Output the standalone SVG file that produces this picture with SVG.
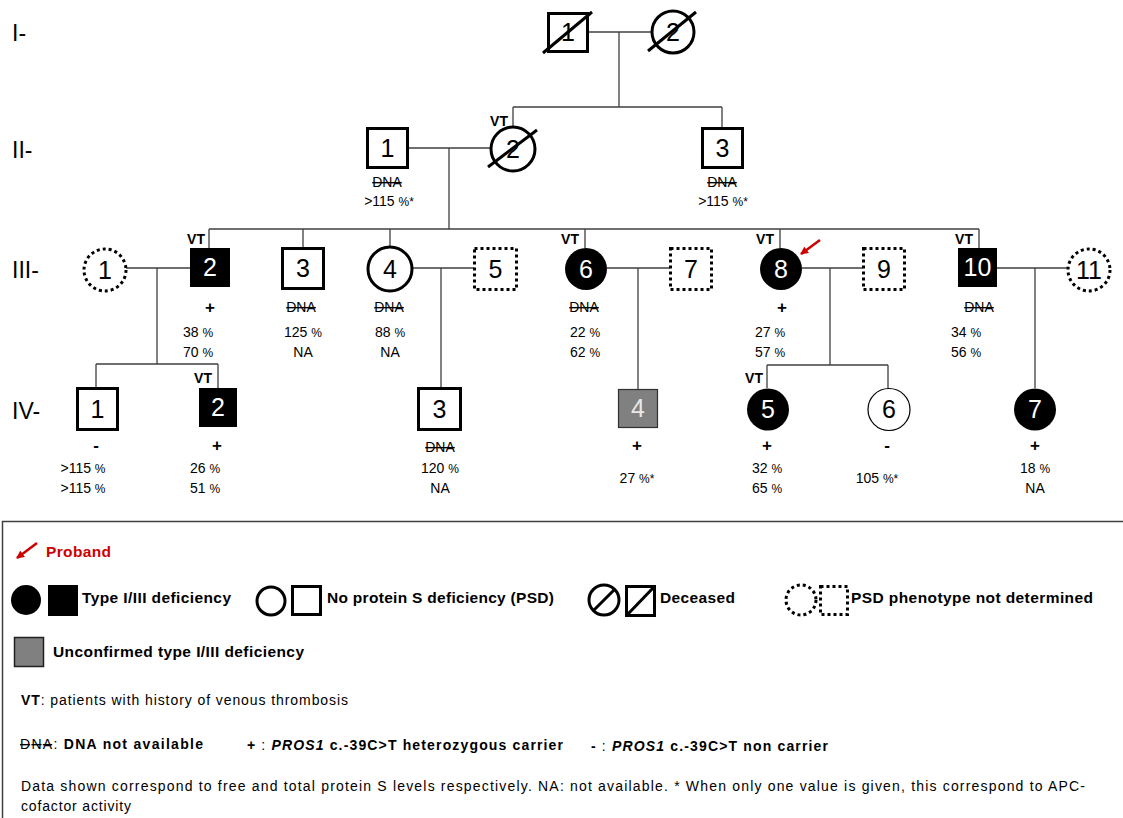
<svg xmlns="http://www.w3.org/2000/svg" width="1123" height="818" viewBox="0 0 1123 818">
<defs>
<style>
.ln{stroke:#404040;stroke-width:1.3;fill:none}
.thick{fill:#fff;stroke:#000;stroke-width:3}
.thin{fill:#fff;stroke:#000;stroke-width:1.2}
.blk{fill:#000}
.dot{fill:#fff;stroke:#000;stroke-width:3;stroke-dasharray:3 3}
.slash{stroke:#000;stroke-width:3}
text{font-family:"Liberation Sans",Arial,sans-serif}
.num{font-size:25px;text-anchor:middle}
.w{fill:#fff}
.t{font-size:14px;text-anchor:middle}
.b{font-weight:bold}
.pm{font-size:17px;font-weight:bold;text-anchor:middle}
.vt{font-size:14px;font-weight:bold;text-anchor:middle}
.dna{text-decoration:line-through}
.gen{font-size:23px}
.pc{font-size:12px}
.lg{font-size:15.5px;font-weight:bold}
.lt{font-size:14px}
</style>
<marker id="ah" markerWidth="8" markerHeight="8" refX="7" refY="4" orient="auto" markerUnits="userSpaceOnUse">
<path d="M0,0 L8,4 L0,8 Z" fill="#cc0000"/>
</marker>
</defs>
<rect width="1123" height="818" fill="#fff"/>

<g id="gen-labels">
<text class="gen" x="12" y="41">I-</text>
<text class="gen" x="12" y="158">II-</text>
<text class="gen" x="12" y="278">III-</text>
<text class="gen" x="12" y="419">IV-</text>
</g>

<g id="connectors">
<path class="ln" d="M588,32 H652 M619,32 V107 M513,107 H722 M513,107 V127 M722,107 V128"/>
<path class="ln" d="M408,148 H491 M449,148 V229 M209,229 H979 M209,229 V248 M303,229 V248 M390,229 V247 M585,229 V248 M780,229 V248 M979,229 V248"/>
<path class="ln" d="M126,268 H190 M157,268 V364 M96,364 H218 M96,364 V388 M218,364 V388"/>
<path class="ln" d="M412,268 H474 M441,268 V388"/>
<path class="ln" d="M607,268 H670 M638,268 V389"/>
<path class="ln" d="M802,268 H863 M830,268 V365 M767,365 H888 M767,365 V388 M888,365 V388"/>
<path class="ln" d="M997,268 H1068 M1035,268 V388"/>
</g>

<g id="I-1">
<rect class="thick" x="548.5" y="13.5" width="39" height="38"/>
<text class="num" x="568" y="41">1</text>
<line class="slash" x1="543" y1="53" x2="592" y2="12"/>
</g>
<g id="I-2">
<circle class="thick" cx="673" cy="32" r="21"/>
<text class="num" x="673" y="41">2</text>
<line class="slash" x1="648" y1="51" x2="696" y2="12"/>
</g>

<g id="II-1">
<rect class="thick" x="367.5" y="128.5" width="40" height="39"/>
<text class="num" x="387.5" y="157">1</text>
<text class="t dna" x="387" y="187">DNA</text>
<text class="t" x="389" y="206">&gt;115 <tspan class="pc">%*</tspan></text>
</g>
<g id="II-2">
<circle class="thick" cx="513" cy="149" r="22"/>
<text class="num" x="513" y="158">2</text>
<line class="slash" x1="488" y1="167" x2="537" y2="130"/>
<text class="vt" x="499" y="126">VT</text>
</g>
<g id="II-3">
<rect class="thick" x="702.5" y="128.5" width="40" height="39"/>
<text class="num" x="722.5" y="157">3</text>
<text class="t dna" x="722" y="187">DNA</text>
<text class="t" x="723" y="206">&gt;115 <tspan class="pc">%*</tspan></text>
</g>

<g id="III-1">
<circle class="dot" cx="105" cy="270" r="21"/>
<text class="num" x="105" y="279">1</text>
</g>
<g id="III-2">
<rect class="blk" x="190" y="248" width="40" height="39"/>
<text class="num w" x="210" y="276">2</text>
<text class="vt" x="196" y="244">VT</text>
<text class="pm" x="210" y="313">+</text>
<text class="t" x="198" y="337">38 <tspan class="pc">%</tspan></text>
<text class="t" x="198" y="357">70 <tspan class="pc">%</tspan></text>
</g>
<g id="III-3">
<rect class="thick" x="282.5" y="248.5" width="41" height="40"/>
<text class="num" x="303" y="277">3</text>
<text class="t dna" x="301" y="312">DNA</text>
<text class="t" x="303" y="337">125 <tspan class="pc">%</tspan></text>
<text class="t" x="303" y="357">NA</text>
</g>
<g id="III-4">
<circle class="thick" cx="390" cy="269" r="22"/>
<text class="num" x="390" y="278">4</text>
<text class="t dna" x="389" y="312">DNA</text>
<text class="t" x="390" y="337">88 <tspan class="pc">%</tspan></text>
<text class="t" x="390" y="357">NA</text>
</g>
<g id="III-5">
<rect class="dot" x="474.5" y="248.5" width="42" height="41"/>
<text class="num" x="495.5" y="278">5</text>
</g>
<g id="III-6">
<circle class="blk" cx="586" cy="269" r="21"/>
<text class="num w" x="586" y="278">6</text>
<text class="vt" x="570" y="244">VT</text>
<text class="t dna" x="584" y="312">DNA</text>
<text class="t" x="585" y="337">22 <tspan class="pc">%</tspan></text>
<text class="t" x="585" y="357">62 <tspan class="pc">%</tspan></text>
</g>
<g id="III-7">
<rect class="dot" x="670.5" y="248.5" width="41" height="41"/>
<text class="num" x="691" y="278">7</text>
</g>
<g id="III-8">
<circle class="blk" cx="781" cy="269" r="21"/>
<text class="num w" x="781" y="278">8</text>
<text class="vt" x="765" y="244">VT</text>
<line x1="820" y1="240" x2="801" y2="254" stroke="#cc0000" stroke-width="2.5" marker-end="url(#ah)"/>
<text class="pm" x="782" y="313">+</text>
<text class="t" x="770" y="337">27 <tspan class="pc">%</tspan></text>
<text class="t" x="770" y="357">57 <tspan class="pc">%</tspan></text>
</g>
<g id="III-9">
<rect class="dot" x="863.5" y="248.5" width="41" height="41"/>
<text class="num" x="884" y="278">9</text>
</g>
<g id="III-10">
<rect class="blk" x="958" y="248" width="39" height="39"/>
<text class="num w" x="977.5" y="276">10</text>
<text class="vt" x="964" y="244">VT</text>
<text class="t dna" x="979" y="312">DNA</text>
<text class="t" x="966" y="337">34 <tspan class="pc">%</tspan></text>
<text class="t" x="966" y="357">56 <tspan class="pc">%</tspan></text>
</g>
<g id="III-11">
<circle class="dot" cx="1089" cy="270" r="21"/>
<text class="num" x="1089" y="279">11</text>
</g>

<g id="IV-1">
<rect class="thick" x="77.5" y="388.5" width="40" height="41"/>
<text class="num" x="97.5" y="418">1</text>
<text class="pm" x="96" y="451">-</text>
<text class="t" x="83" y="473">&gt;115 <tspan class="pc">%</tspan></text>
<text class="t" x="83" y="493">&gt;115 <tspan class="pc">%</tspan></text>
</g>
<g id="IV-2">
<rect class="blk" x="199" y="388" width="38" height="39"/>
<text class="num w" x="218" y="416">2</text>
<text class="vt" x="203" y="383">VT</text>
<text class="pm" x="217" y="451">+</text>
<text class="t" x="205" y="473">26 <tspan class="pc">%</tspan></text>
<text class="t" x="205" y="493">51 <tspan class="pc">%</tspan></text>
</g>
<g id="IV-3">
<rect class="thick" x="418.5" y="388.5" width="42" height="41"/>
<text class="num" x="439.5" y="418">3</text>
<text class="t dna" x="440" y="452">DNA</text>
<text class="t" x="440" y="473">120 <tspan class="pc">%</tspan></text>
<text class="t" x="440" y="493">NA</text>
</g>
<g id="IV-4">
<rect x="618.5" y="389.5" width="39" height="38" fill="#808080" stroke="#303030" stroke-width="1.2"/>
<text class="num" x="638" y="417" fill="#e8e8e8">4</text>
<text class="pm" x="637" y="451">+</text>
<text class="t" x="637" y="483">27 <tspan class="pc">%*</tspan></text>
</g>
<g id="IV-5">
<circle class="blk" cx="768" cy="409.5" r="21"/>
<text class="num w" x="768" y="418">5</text>
<text class="vt" x="754" y="383">VT</text>
<text class="pm" x="767" y="451">+</text>
<text class="t" x="767" y="473">32 <tspan class="pc">%</tspan></text>
<text class="t" x="767" y="493">65 <tspan class="pc">%</tspan></text>
</g>
<g id="IV-6">
<circle class="thin" cx="889" cy="409.5" r="21"/>
<text class="num" x="889" y="418">6</text>
<text class="pm" x="887" y="451">-</text>
<text class="t" x="877" y="483">105 <tspan class="pc">%*</tspan></text>
</g>
<g id="IV-7">
<circle class="blk" cx="1035" cy="409.5" r="21"/>
<text class="num w" x="1035" y="418">7</text>
<text class="pm" x="1035" y="451">+</text>
<text class="t" x="1035" y="473">18 <tspan class="pc">%</tspan></text>
<text class="t" x="1035" y="493">NA</text>
</g>

<g id="legend">
<rect x="2.5" y="521.5" width="1140" height="320" fill="none" stroke="#404040" stroke-width="1.5"/>
<line x1="37" y1="543" x2="17" y2="558" stroke="#cc0000" stroke-width="2.5" marker-end="url(#ah)"/>
<text class="lg" x="46" y="557" fill="#cc0000" textLength="65">Proband</text>

<circle class="blk" cx="26" cy="600" r="15"/>
<rect class="blk" x="48" y="585" width="30" height="31"/>
<text class="lg" x="82" y="603" textLength="149">Type I/III deficiency</text>

<circle cx="271" cy="601" r="14" fill="#fff" stroke="#000" stroke-width="3"/>
<rect x="292.5" y="586.5" width="28" height="28" fill="#fff" stroke="#000" stroke-width="3"/>
<text class="lg" x="327" y="603" textLength="227">No protein S deficiency (PSD)</text>

<circle cx="604" cy="600" r="15" fill="#fff" stroke="#000" stroke-width="3"/>
<line class="slash" x1="593" y1="611" x2="615" y2="589"/>
<rect x="626.5" y="586.5" width="28" height="29" fill="#fff" stroke="#000" stroke-width="3"/>
<line class="slash" x1="627" y1="615" x2="654" y2="587"/>
<text class="lg" x="660" y="603" textLength="75">Deceased</text>

<circle cx="801" cy="600" r="15" fill="#fff" stroke="#000" stroke-width="3" stroke-dasharray="3 3"/>
<rect x="820.5" y="586.5" width="27" height="28" fill="#fff" stroke="#000" stroke-width="3" stroke-dasharray="3 3"/>
<text class="lg" x="851" y="603" textLength="242">PSD phenotype not determined</text>

<rect x="14.5" y="637.5" width="29" height="29" fill="#808080" stroke="#202020" stroke-width="1.5"/>
<text class="lg" x="53" y="657" textLength="251">Unconfirmed type I/III deficiency</text>

<text class="lt" x="21" y="705" textLength="327"><tspan font-weight="bold">VT</tspan>: patients with history of venous thrombosis</text>

<text class="lt" x="20" y="749" textLength="183"><tspan class="dna">DNA</tspan>: <tspan font-weight="bold">DNA not available</tspan></text>
<text class="lt" x="247" y="750" textLength="316"><tspan font-weight="bold">+</tspan> : <tspan font-weight="bold" font-style="italic">PROS1</tspan><tspan font-weight="bold"> c.-39C&gt;T heterozygous carrier</tspan></text>
<text class="lt" x="591" y="751" textLength="237"><tspan font-weight="bold">-</tspan> : <tspan font-weight="bold" font-style="italic">PROS1</tspan><tspan font-weight="bold"> c.-39C&gt;T non carrier</tspan></text>

<text class="lt" x="21" y="791" textLength="1064">Data shown correspond to free and total protein S levels respectively. NA: not available. * When only one value is given, this correspond to APC-</text>
<text class="lt" x="21" y="811" textLength="110">cofactor activity</text>
</g>
</svg>
